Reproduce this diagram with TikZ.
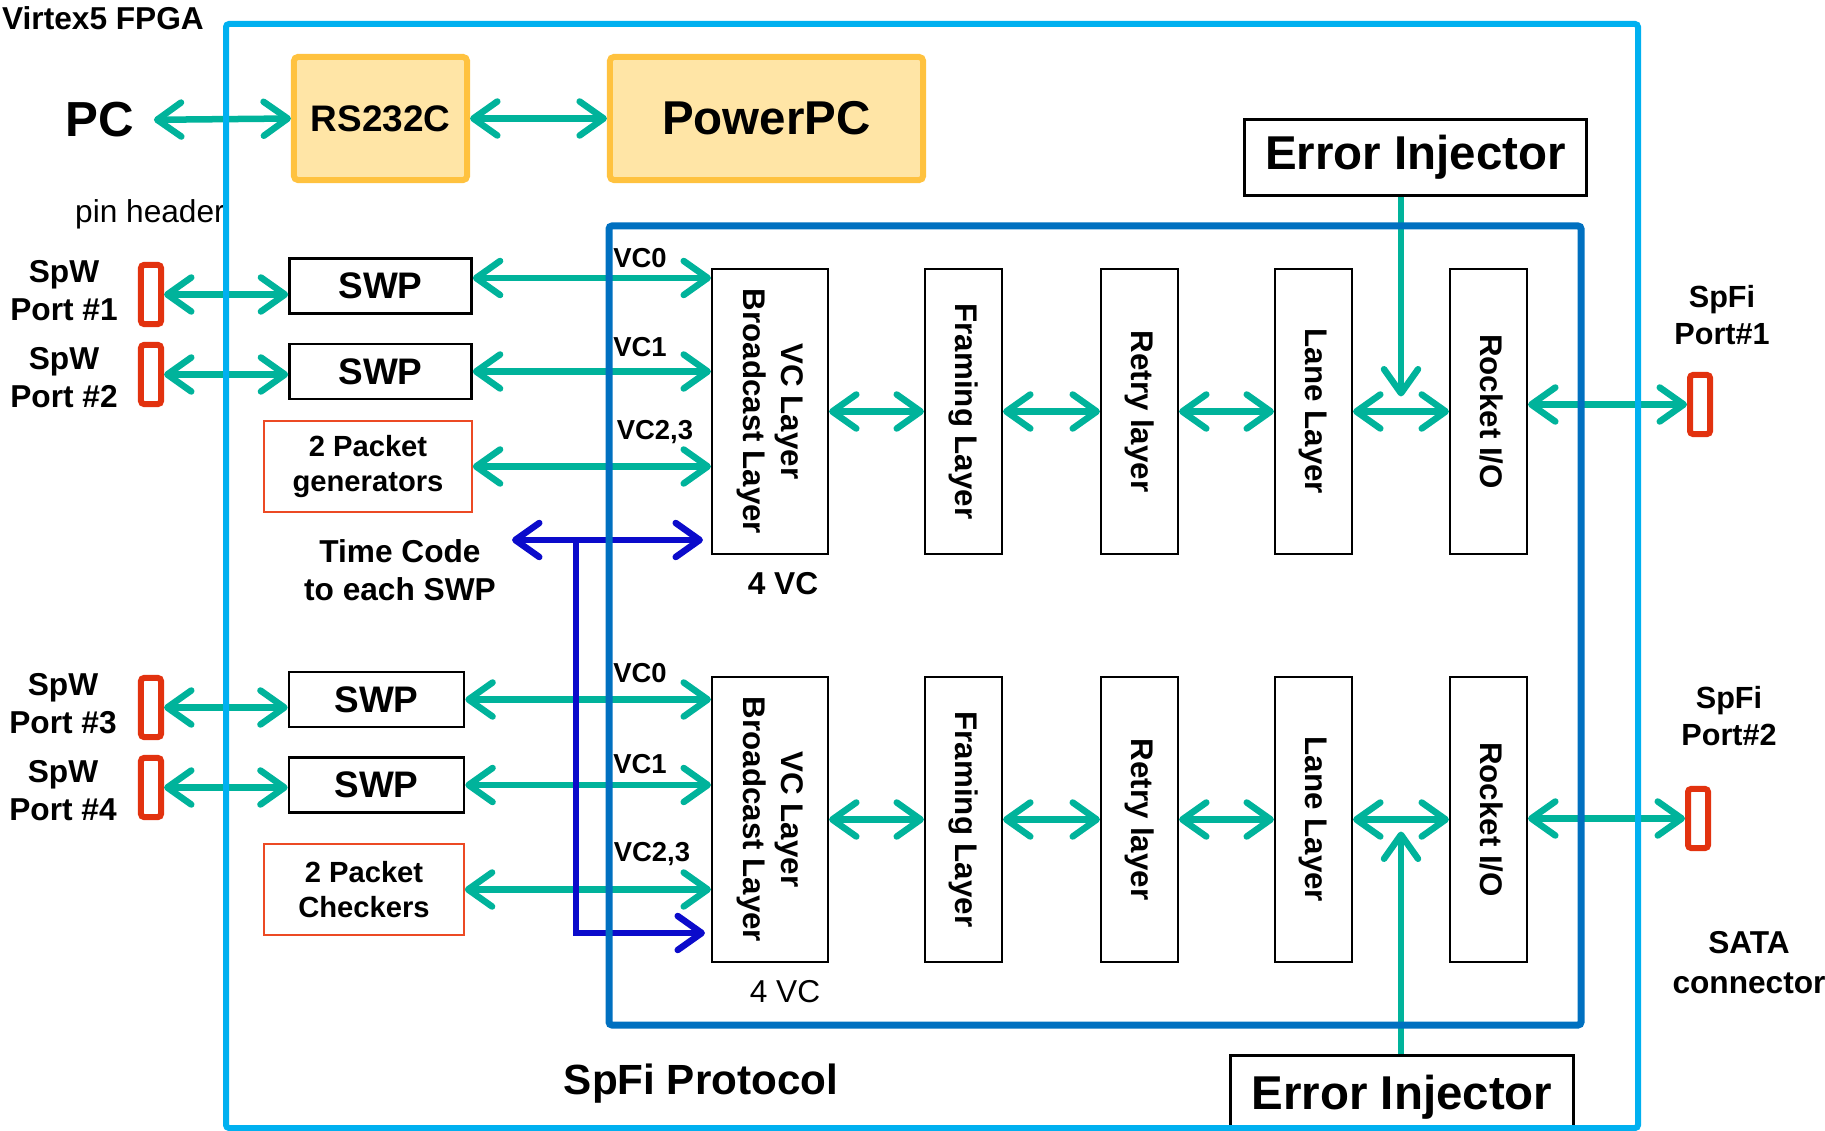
\documentclass[tikz,border=0pt]{standalone}
\usepackage{fontspec}
\setmainfont{Liberation Sans}
\usetikzlibrary{arrows.meta, calc}
\definecolor{mSky}{HTML}{00B0F0}
\definecolor{mNavy}{HTML}{0070C0}
\definecolor{mTeal}{HTML}{00B39B}
\definecolor{mBlue}{HTML}{0B0BCB}
\definecolor{mRed}{HTML}{E2320F}
\definecolor{mRedLine}{HTML}{EC4A24}
\definecolor{mAmber}{HTML}{FFC23F}
\definecolor{mCream}{HTML}{FFE5A6}
\newcommand{\vtext}[1]{\rotatebox{-90}{\begin{tabular}{@{}c@{}}#1\end{tabular}}}

\begin{document}
\begin{tikzpicture}[x=0.01cm, y=-0.01cm,
  >={Straight Barb[length=2.4mm, width=3.4mm, round]},
  every node/.style={inner sep=0pt},
  lab/.style={align=center, font=\fontsize{9}{10.8}\selectfont\bfseries},
  ybox/.style={draw=mAmber, fill=mCream, line width=0.6mm, rounded corners=0.4mm,
    minimum height=1.23cm, font=\fontsize{10.5}{12}\selectfont\bfseries},
  swpbox/.style={draw, line width=0.25mm, minimum height=0.55cm,
    font=\fontsize{10.5}{12}\selectfont\bfseries},
  genbox/.style={draw=mRedLine, line width=0.15mm, minimum height=0.91cm, align=center,
    font=\fontsize{8.3}{10}\selectfont\bfseries},
  layerbox/.style={draw, line width=0.2mm, minimum width=0.77cm, minimum height=2.84cm,
    font=\fontsize{8.9}{10.8}\selectfont\bfseries},
  portbox/.style={draw=mRed, line width=0.6mm, rounded corners=0.3mm,
    minimum width=0.2cm, minimum height=0.59cm},
  injbox/.style={draw, line width=0.25mm, minimum height=0.76cm,
    font=\fontsize{13.5}{16}\selectfont\bfseries},
  vclab/.style={font=\fontsize{7.8}{9}\selectfont\bfseries},
  link/.style={draw=mTeal, line width=0.65mm},
  tcode/.style={draw=mBlue, line width=0.65mm},
]
\useasboundingbox (0,0) rectangle (1825,1131);

% host side
\node[lab] (virtex) at (103,18) {Virtex5 FPGA};
\node[font=\fontsize{14}{16}\selectfont\bfseries] (pc) at (100,120) {PC};
\node[ybox, minimum width=1.73cm] (rs) at (380.5,118.5) {RS232C};
\node[ybox, minimum width=3.13cm, font=\fontsize{13.5}{16}\selectfont\bfseries] (ppc) at (766.5,118.5) {PowerPC};
\draw[link, <->, shorten <=1.9mm] (pc.east) -- (rs.west);
\draw[link, <->] (rs.east) -- (ppc.west);
\node[font=\fontsize{9}{11}\selectfont] (pin) at (150,214) {pin header};

% SpW ports
\node[portbox] (p1) at (151,294.5) {};
\node[portbox] (p2) at (151,374.5) {};
\node[portbox] (p3) at (151,707.5) {};
\node[portbox] (p4) at (151,787.5) {};
\node[lab] (p1lab) at (64,291) {SpW\\Port \#1};
\node[lab] (p2lab) at (64,377.5) {SpW\\Port \#2};
\node[lab] (p3lab) at (63,704) {SpW\\Port \#3};
\node[lab] (p4lab) at (63,791) {SpW\\Port \#4};

\node[swpbox, minimum width=1.82cm] (swp1) at (380.5,286) {SWP};
\node[swpbox, minimum width=1.82cm] (swp2) at (380.5,371.5) {SWP};
\node[swpbox, minimum width=1.75cm] (swp3) at (376.5,699.5) {SWP};
\node[swpbox, minimum width=1.75cm] (swp4) at (376.5,785) {SWP};
\node[genbox, minimum width=2.08cm] (gen) at (368,466.5) {2 Packet\\generators};
\node[genbox, minimum width=2.0cm] (chk) at (364,889.5) {2 Packet\\Checkers};

\draw[link, <->] (p1.east) -- (p1.east -| swp1.west);
\draw[link, <->] (p2.east) -- (p2.east -| swp2.west);
\draw[link, <->] (p3.east) -- (p3.east -| swp3.west);
\draw[link, <->] (p4.east) -- (p4.east -| swp4.west);

% SpFi layers
\foreach \r/\y in {1/411.5, 2/819.5} {
  \node[layerbox, minimum width=1.16cm] (vc\r) at (770,\y) {\vtext{VC Layer\\Broadcast Layer}};
  \node[layerbox] (fr\r) at (963.5,\y) {\vtext{Framing Layer}};
  \node[layerbox] (rt\r) at (1139.5,\y) {\vtext{Retry layer}};
  \node[layerbox] (ln\r) at (1313.5,\y) {\vtext{Lane Layer}};
  \node[layerbox] (rk\r) at (1488.5,\y) {\vtext{Rocket I/O}};
  \foreach \a/\b in {vc/fr, fr/rt, rt/ln, ln/rk}
    \draw[link, <->] (\a\r.east) -- (\b\r.west);
}

\path (swp1.east) ++(0,-8) coordinate (swp1o);
\draw[link, <->] (swp1o) -- (swp1o -| vc1.west);
\draw[link, <->] (swp2.east) -- (swp2.east -| vc1.west);
\draw[link, <->] (gen.east) -- (gen.east -| vc1.west);
\draw[link, <->] (swp3.east) -- (swp3.east -| vc2.west);
\draw[link, <->] (swp4.east) -- (swp4.east -| vc2.west);
\draw[link, <->] (chk.east) -- (chk.east -| vc2.west);

\node[vclab] (vc0a) at (640,258) {VC0};
\node[vclab] (vc1a) at (640,347) {VC1};
\node[vclab] (vc23a) at (655,432) {VC2,3};
\node[vclab] (vc0b) at (640,673) {VC0};
\node[vclab] (vc1b) at (640,764) {VC1};
\node[vclab] (vc23b) at (652,854) {VC2,3};
\node[lab] (fourvc1) at (783,584) {4 VC};
\node[font=\fontsize{9}{11}\selectfont] (fourvc2) at (785,992) {4 VC};

% time code
\node[lab] (tclab) at (400,570) {Time Code\\to each SWP};
\coordinate (tcl) at (512,540);
\coordinate (tcj) at (576,540);
\coordinate (tcb) at (576,933);
\draw[tcode, <->, shorten >=0.8mm] (tcl) -- (tcl -| vc1.west);
\draw[tcode, ->, shorten >=0.6mm] (tcj) |- (tcb -| vc2.west);

% SpFi ports
\node[portbox] (sp1) at (1700,404.5) {};
\node[portbox] (sp2) at (1698,818.5) {};
\draw[link, <->] (rk1.east |- sp1.west) -- (sp1.west);
\draw[link, <->] (rk2.east |- sp2.west) -- (sp2.west);
\node[lab, font=\fontsize{8.7}{10.5}\selectfont\bfseries] (sp1lab) at (1722,315.5) {SpFi\\Port\#1};
\node[lab, font=\fontsize{8.7}{10.5}\selectfont\bfseries] (sp2lab) at (1729,716) {SpFi\\Port\#2};
\node[lab, font=\fontsize{9}{11.4}\selectfont\bfseries] (sata) at (1749,963) {SATA\\connector};

% error injectors
\node[injbox, minimum width=3.42cm] (inj1) at (1415.5,157.5) {Error Injector};
\node[injbox, minimum width=3.43cm, minimum height=0.84cm, anchor=north] (inj2) at (1402,1054) {Error Injector};
\coordinate (m1) at ($(ln1.east)!0.5!(rk1.west)$);
\coordinate (m2) at ($(ln2.east)!0.5!(rk2.west)$);
\draw[link, ->, shorten >=1.5mm] (inj1.south -| m1) -- (m1);
\draw[link, ->, shorten >=1.2mm] (inj2.north -| m2) -- (m2);

\node[font=\fontsize{12}{14}\selectfont\bfseries] (proto) at (701,1084) {SpFi Protocol};

% frames
\draw[draw=mSky, line width=0.6mm, rounded corners=0.3mm] (226,24) rectangle (1638,1128);
\draw[draw=mNavy, line width=0.7mm, rounded corners=0.3mm] (609,226) rectangle (1581,1025);
\end{tikzpicture}
\end{document}
